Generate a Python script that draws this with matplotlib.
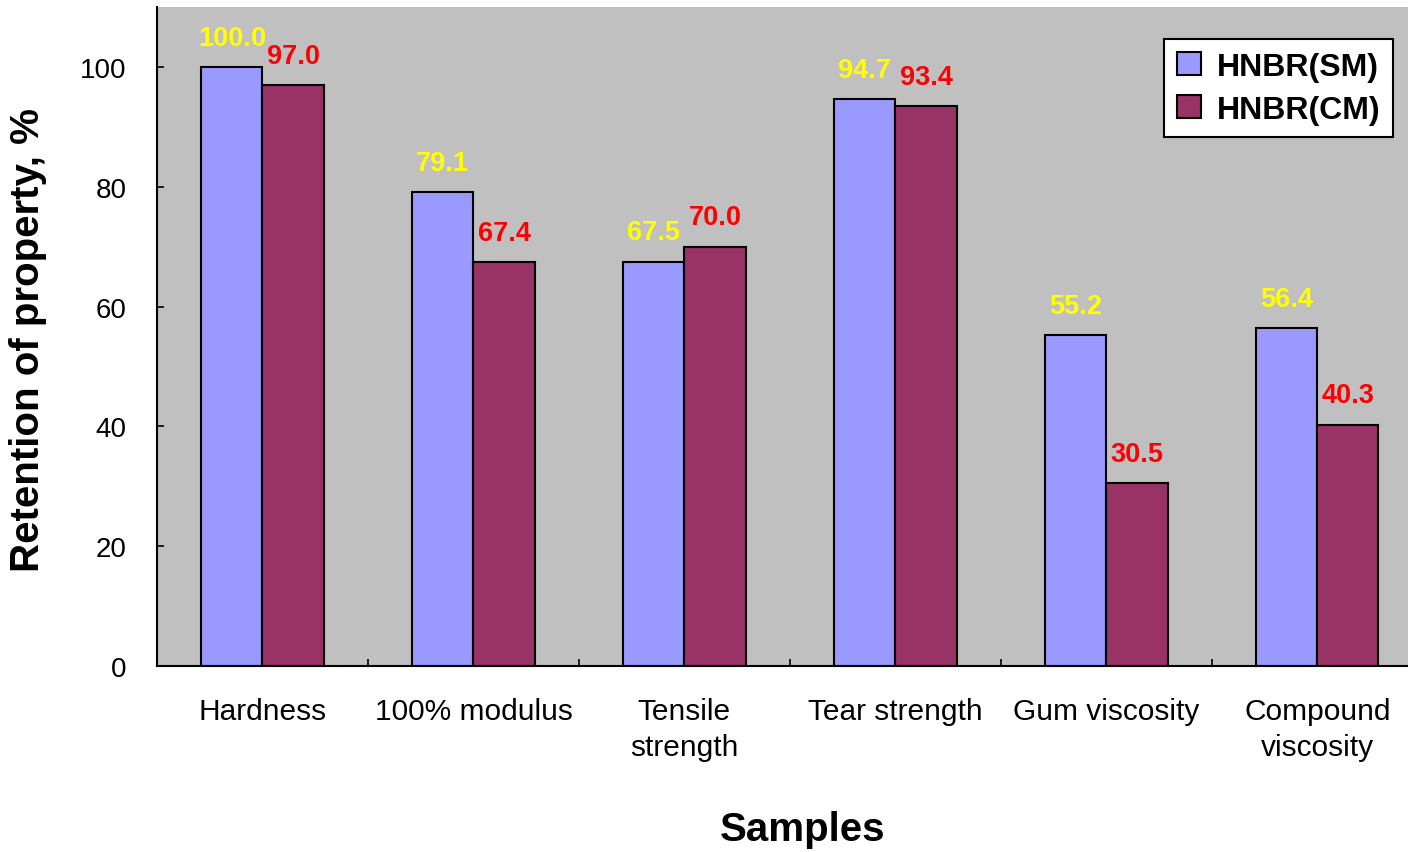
import matplotlib.pyplot as plt
import numpy as np

plt.rcParams['font.family'] = ['Liberation Sans', 'DejaVu Sans']

samples = ['Hardness', '100% modulus', 'Tensile\nstrength', 'Tear strength',
           'Gum viscosity', 'Compound\nviscosity']
hnbr_sm = [100.0, 79.1, 67.5, 94.7, 55.2, 56.4]
hnbr_cm = [97.0, 67.4, 70.0, 93.4, 30.5, 40.3]

fig = plt.figure(figsize=(14.08, 8.53), dpi=100)
# plot area runs a little past the right edge of the figure
ax = fig.add_axes([0.1115, 0.218, 0.899, 0.7726])
ax.set_facecolor('#C0C0C0')

x = np.arange(len(samples))
w = 0.29
b1 = ax.bar(x - w / 2, hnbr_sm, w, color='#9999FF', edgecolor='black',
            linewidth=1.5, label='HNBR(SM)')
b2 = ax.bar(x + w / 2, hnbr_cm, w, color='#993366', edgecolor='black',
            linewidth=1.5, label='HNBR(CM)')

for bars, vals, col in ((b1, hnbr_sm, '#FFFF00'), (b2, hnbr_cm, '#FF0000')):
    for r, v in zip(bars, vals):
        ax.annotate('%.1f' % v, xy=(r.get_x() + r.get_width() / 2, v),
                    xytext=(0, 21), textcoords='offset points',
                    ha='center', va='center', color=col,
                    fontsize=19.5, fontweight='bold')

ax.set_xlim(-0.5, len(samples) - 0.5)
ax.set_ylim(0, 110)
ax.set_yticks([0, 20, 40, 60, 80, 100])
ax.tick_params(axis='y', direction='in', length=5, width=1.2,
               labelsize=20, pad=22)

ax.set_xticks(x)
ax.set_xticklabels(samples, fontsize=21.5, linespacing=1.4)
ax.set_xticks(np.arange(len(samples)) + 0.5, minor=True)
ax.tick_params(axis='x', which='major', length=0, pad=22)
ax.tick_params(axis='x', which='minor', direction='in', length=5, width=1.2)

for s in ['top', 'right']:
    ax.spines[s].set_visible(False)
for s in ['left', 'bottom']:
    ax.spines[s].set_linewidth(1.5)

ax.set_ylabel('Retention of property, %', fontsize=29, fontweight='bold')
ax.yaxis.set_label_coords(-0.087, 0.496)
fig.text(0.57, 0.027, 'Samples', fontsize=29, fontweight='bold',
         ha='center', va='center')

leg = ax.legend(loc='upper right', bbox_to_anchor=(0.9893, 0.9531),
                bbox_transform=fig.transFigure,
                prop={'weight': 'bold', 'size': 23},
                fancybox=False, framealpha=1, edgecolor='black',
                handlelength=0.75, handleheight=0.75, handletextpad=0.5,
                borderpad=0.4, labelspacing=0.4, borderaxespad=0)
leg.get_frame().set_linewidth(1.5)

fig.savefig('out.png', dpi=100)
